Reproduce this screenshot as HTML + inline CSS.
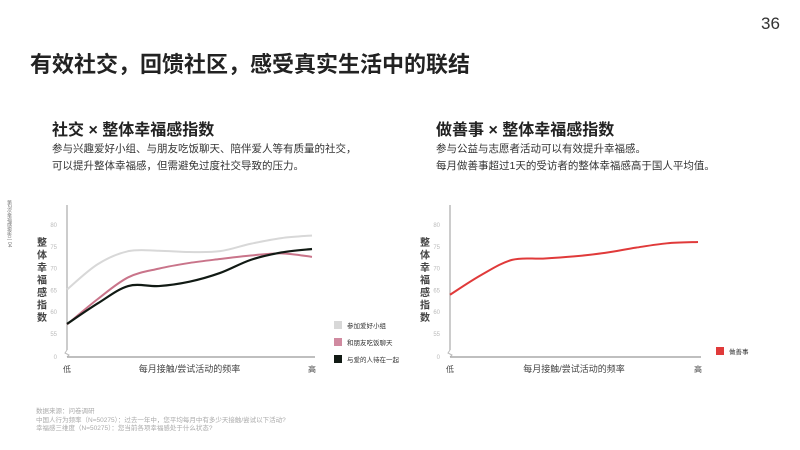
<!DOCTYPE html>
<html><head><meta charset="utf-8"><style>
body{margin:0;width:800px;height:450px;background:#fff;overflow:hidden;font-family:"Liberation Sans","Noto Sans CJK SC",sans-serif;color:#222}
.t{position:absolute;white-space:nowrap}
</style></head><body>
<div class="t" style="left:761px;top:14px;font-size:17px;color:#333">36</div>
<div class="t" style="left:30px;top:47px;font-size:22px;font-weight:bold;color:#222">有效社交，回馈社区，感受真实生活中的联结</div>
<div class="t" style="left:52px;top:116px;font-size:16px;font-weight:bold">社交 × 整体幸福感指数</div>
<div class="t" style="left:52px;top:141px;font-size:10.5px;line-height:17px;color:#333">参与兴趣爱好小组、与朋友吃饭聊天、陪伴爱人等有质量的社交，<br>可以提升整体幸福感，但需避免过度社交导致的压力。</div>
<div class="t" style="left:436px;top:116px;font-size:16px;font-weight:bold">做善事 × 整体幸福感指数</div>
<div class="t" style="left:436px;top:141px;font-size:10.5px;line-height:17px;color:#333">参与公益与志愿者活动可以有效提升幸福感。<br>每月做善事超过1天的受访者的整体幸福感高于国人平均值。</div>
<div class="t" style="left:6px;top:200px;font-size:5px;color:#777;writing-mode:vertical-rl">第2次幸福感报告 | 04</div>
<div class="t" style="left:36px;top:408px;font-size:6.5px;line-height:8.5px;color:#aaa">数据来源：问卷调研<br>中国人行为频率（N=50275）：过去一年中，您平均每月中有多少天接触/尝试以下活动?<br>幸福感三维度（N=50275）：您当前各项幸福感处于什么状态?</div>
<svg id="c" width="800" height="450" style="position:absolute;left:0;top:0"></svg>
<script>
const categories=[0,1,2,3,4,5,6,7,8];
const ticks=[80,75,70,65,60,55];
const hobby=[65.2,71,74,74.1,73.8,74,75.7,77,77.6];
const friends=[57.2,63,68,70,71.3,72.2,73,73.5,72.7];
const loved=[57.3,62,66,66,67,69,72,73.7,74.5];
const charity=[64,68.5,72,72.3,72.8,73.6,74.8,75.8,76.1];
const NS="http://www.w3.org/2000/svg";
const svg=document.getElementById('c');
function mk(t,a,p){const e=document.createElementNS(NS,t);for(const k in a)e.setAttribute(k,a[k]);(p||svg).appendChild(e);return e;}
function yS(v){return 225+(80-v)*4.36;}
function smooth(pts){let d=`M${pts[0][0]},${pts[0][1]}`;for(let i=0;i<pts.length-1;i++){const p0=pts[Math.max(0,i-1)],p1=pts[i],p2=pts[i+1],p3=pts[Math.min(pts.length-1,i+2)];d+=` C${p1[0]+(p2[0]-p0[0])/6},${p1[1]+(p2[1]-p0[1])/6} ${p2[0]-(p3[0]-p1[0])/6},${p2[1]-(p3[1]-p1[1])/6} ${p2[0]},${p2[1]}`;}return d;}
function chart(x0,x1,series,names,legends,lx,ly){
  const xS=i=>x0+i*(x1-x0)/(categories.length-1);
  let l;
  l=mk('line',{x1:x0,y1:205,x2:x0,y2:350,stroke:'#bbb','stroke-width':1.5});
  mk('path',{d:`M${x0},350 l-2,3 l4,2 l-2,2`,stroke:'#bbb',fill:'none'});
  l=mk('line',{x1:x0,y1:357,x2:x1+3,y2:357,stroke:'#aaa','stroke-width':1.5});
  ticks.forEach(v=>{const t=mk('text',{x:x0-10,y:yS(v)+2,'font-size':6,fill:'#bbb','text-anchor':'end'});t.textContent=v;});
  const z=mk('text',{x:x0-10,y:359,'font-size':6,fill:'#bbb','text-anchor':'end'});z.textContent='0';
  const yt=mk('text',{x:x0-25,y:246,'font-size':10,'font-weight':'bold',fill:'#444','text-anchor':'middle'});
  '整体幸福感指数'.split('').forEach((c,i)=>{const s=mk('tspan',{x:x0-25,y:246+i*12.5},yt);s.textContent=c;});
  let t=mk('text',{x:x0,y:372,'font-size':8,fill:'#444','text-anchor':'middle'});t.textContent='低';
  t=mk('text',{x:x1,y:372,'font-size':8,fill:'#444','text-anchor':'middle'});t.textContent='高';
  t=mk('text',{x:(x0+x1)/2,y:372,'font-size':9,fill:'#444','text-anchor':'middle'});t.textContent='每月接触/尝试活动的频率';
  series.forEach((s,k)=>{const p=mk('path',{d:smooth(s.d.map((v,i)=>[xS(i),yS(v)])),stroke:s.c,'stroke-width':s.w,fill:'none'});});
  legends.forEach((g,k)=>{const r=mk('rect',{x:lx,y:ly+k*17-4,width:8,height:8,fill:g.c});
    const tx=mk('text',{x:lx+13,y:ly+k*17+3,'font-size':6.5,fill:'#333'});tx.textContent=g.t;});
}
chart(67,312,[{d:hobby,c:'#d8d8d8',w:2},{d:friends,c:'#c9748a',w:2},{d:loved,c:'#111a14',w:2.2}],['line-hobby','line-friends','line-loved'],
 [{c:'#d8d8d8',t:'参加爱好小组'},{c:'#d08aa0',t:'和朋友吃饭聊天'},{c:'#111a14',t:'与爱的人待在一起'}],334,325);
chart(450,698,[{d:charity,c:'#e03a3a',w:2}],['line-charity'],[{c:'#e03a3a',t:'做善事'}],716,351);
</script>
</body></html>
